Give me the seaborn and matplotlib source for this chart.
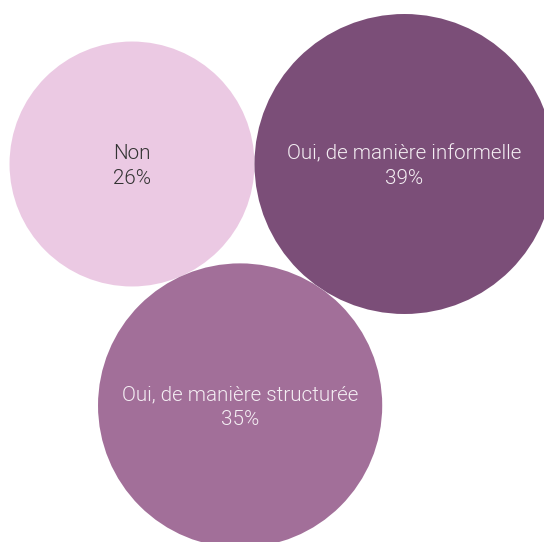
import numpy as np
import pandas as pd
import matplotlib
matplotlib.use("Agg")
import matplotlib.pyplot as plt
import seaborn as sns

categories = ["Non", "Oui, de manière informelle", "Oui, de manière structurée"]
shares = [26, 39, 35]
colors = ["#EBC9E3", "#7B4E78", "#A26F99"]
text_colors = ["#333333", "#F4EEF3", "#F4EEF3"]

W, H, DPI = 544, 542, 100
PX_PER_UNIT = 150 / np.sqrt(39)  # radius in px per sqrt(percent)

# bubble radii (px), area proportional to share
radii = PX_PER_UNIT * np.sqrt(np.array(shares, dtype=float))
r1, r2, r3 = radii

# pack: "Non" and "informelle" side by side, "structurée" tangent to both below
c1 = np.array([132.0, 164.0])
d12 = r1 + r2
c2 = c1 + np.array([d12, 0.0])
d13, d23 = r1 + r3, r2 + r3
a = (d13**2 - d23**2 + d12**2) / (2 * d12)
c3 = c1 + np.array([a, np.sqrt(d13**2 - a**2)])
centers = np.array([c1, c2, c3])

df = pd.DataFrame({"label": categories, "share": shares,
                   "x": centers[:, 0], "y": centers[:, 1]})

sns.set_theme(style="white")
fig = plt.figure(figsize=(W / DPI, H / DPI), dpi=DPI)
ax = fig.add_axes([0, 0, 1, 1])

# marker area in pt^2 for the largest share
pt_per_px = 72 / DPI
s_max = (2 * radii.max() * pt_per_px) ** 2
sns.scatterplot(data=df, x="x", y="y", hue="label", palette=colors,
                size="share", sizes=(0, s_max), size_norm=(0, max(shares)),
                linewidth=0, legend=False, ax=ax)

for row, tc in zip(df.itertuples(), text_colors):
    ax.text(row.x, row.y + 2, f"{row.label}\n{row.share}%", ha="center", va="center",
            color=tc, fontsize=14.9, family="Roboto", fontweight=300,
            linespacing=1.38)

ax.set_xlim(0, W)
ax.set_ylim(H, 0)
ax.set_axis_off()
fig.savefig("out.png", dpi=DPI)
